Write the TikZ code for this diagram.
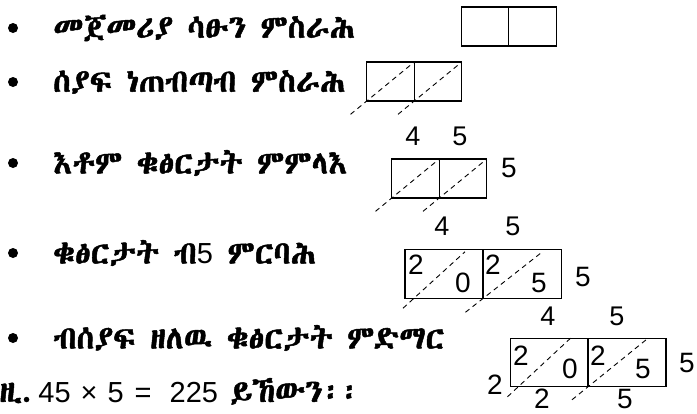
\documentclass[tikz,border=0pt]{standalone}
\usepackage{fontspec}
\setmainfont{Liberation Sans}
\IfFontExistsTF{Abyssinica SIL}
  {\newfontfamily\geez[Script=Ethiopic, FakeBold=1.5]{Abyssinica SIL}}
  {\IfFontExistsTF{FreeSerif}
    {\newfontfamily\geez[FakeBold=1.5]{FreeSerif}}
    {\newfontfamily\geez{DejaVu Sans}}}
\newcommand{\digits}{\rmfamily\fontsize{29}{33}\selectfont}

\begin{document}
\begin{tikzpicture}[x=1pt, y=-1pt, every node/.style={font=\fontsize{27}{31}\selectfont},
    cell/.style={draw, line width=1.1pt, inner sep=0pt, outer sep=0pt},
    smallcell/.style={cell, minimum width=47.5pt, minimum height=39pt},
    bigcell/.style={cell, minimum width=78pt, minimum height=48.5pt},
    diag/.style={line width=0.9pt, dash pattern=on 5pt off 4pt},
    item/.style={anchor=west, inner sep=0pt, font=\fontsize{32}{36}\selectfont\geez},
    inner/.style={font=\fontsize{28}{32}\selectfont},
    dot/.style={circle, fill, inner sep=0pt, minimum size=10pt}]
    \useasboundingbox (0,0) rectangle (697,413);

    \node[dot] (d1) at (13,28) {};
    \node[item] (s1) at (53,28) {መጀመሪያ ሳፁን ምስራሕ};
    \node[dot] (d2) at (13,82) {};
    \node[item] (s2) at (53,82) {ሰያፍ ነጠብጣብ ምስራሕ};
    \node[dot] (d3) at (13,163) {};
    \node[item] (s3) at (53,163) {እቶም ቁፅርታት ምምላእ};
    \node[dot] (d4) at (13,253) {};
    \node[item] (s4) at (53,253) {ቁፅርታት ብ{\digits 5} ምርባሕ};
    \node[dot] (d5) at (13,338) {};
    \node[item] (s5) at (53,338) {ብሰያፍ ዘለዉ ቁፅርታት ምድማር};
    \node[item, anchor=base west] (s6) at (-1,402) {ዚ.\hspace{6pt}{\digits 45\hspace{10pt}×\hspace{10pt}5\hspace{11pt}=\hspace{18pt}225}\hspace{12pt}ይኸውን፡፡};

    % step 1
    \node[smallcell] (b1a) at (485,26.5) {};
    \node[smallcell] (b1b) at (532.5,26.5) {};

    % step 2
    \node[smallcell] (b2a) at (390.5,81.5) {};
    \node[smallcell] (b2b) at (438,81.5) {};
    \draw[diag, shorten <=-21pt] (b2a.south west) -- (b2a.north east);
    \draw[diag, shorten <=-21pt] (b2b.south west) -- (b2b.north east);

    % step 3
    \node (t3a) at (413,136) {4};
    \node (t3b) at (460,136) {5};
    \node[smallcell] (b3a) at (415.5,178.5) {};
    \node[smallcell] (b3b) at (463,178.5) {};
    \node[inner] (r3) at (509,168) {5};
    \draw[diag, shorten <=-21pt] (b3a.south west) -- (b3a.north east);
    \draw[diag, shorten <=-21pt] (b3b.south west) -- (b3b.north east);

    % step 4
    \node (t4a) at (442,226) {4};
    \node (t4b) at (513,226) {5};
    \node[bigcell] (b4a) at (444,274) {};
    \node[bigcell] (b4b) at (522.5,274) {};
    \node[inner] (r4) at (583,277) {5};
    \node[inner] (p4a) at (416,265) {2};
    \node[inner] (q4a) at (463,283) {0};
    \node[inner] (p4b) at (493,265) {2};
    \node[inner] (q4b) at (539,283) {5};
    \draw[diag] ([xshift=-2pt, yshift=-10pt]b4a.south west) -- ([xshift=-18pt, yshift=-2pt]b4a.north east);
    \draw[diag] ([xshift=-18pt, yshift=-14pt]b4b.south west) -- ([xshift=-19pt, yshift=-2pt]b4b.north east);

    % step 5
    \node (t5a) at (548,316) {4};
    \node (t5b) at (617,316) {5};
    \node[bigcell] (b5a) at (549.5,362.5) {};
    \node[bigcell] (b5b) at (627,362.5) {};
    \node[inner] (r5) at (687,363) {5};
    \node[inner] (p5a) at (521,356) {2};
    \node[inner] (q5a) at (570,369) {0};
    \node[inner] (p5b) at (598,356) {2};
    \node[inner] (q5b) at (643,369) {5};
    \node[inner] (u5) at (495,385) {2};
    \node[inner] (v5a) at (542,399) {2};
    \node[inner] (v5b) at (625,399) {5};
    \draw[diag] ([xshift=-3pt, yshift=-10pt]b5a.south west) -- ([xshift=-18pt]b5a.north east);
    \draw[diag] ([xshift=-16pt, yshift=-13pt]b5b.south west) -- ([xshift=-18pt]b5b.north east);
\end{tikzpicture}
\end{document}
